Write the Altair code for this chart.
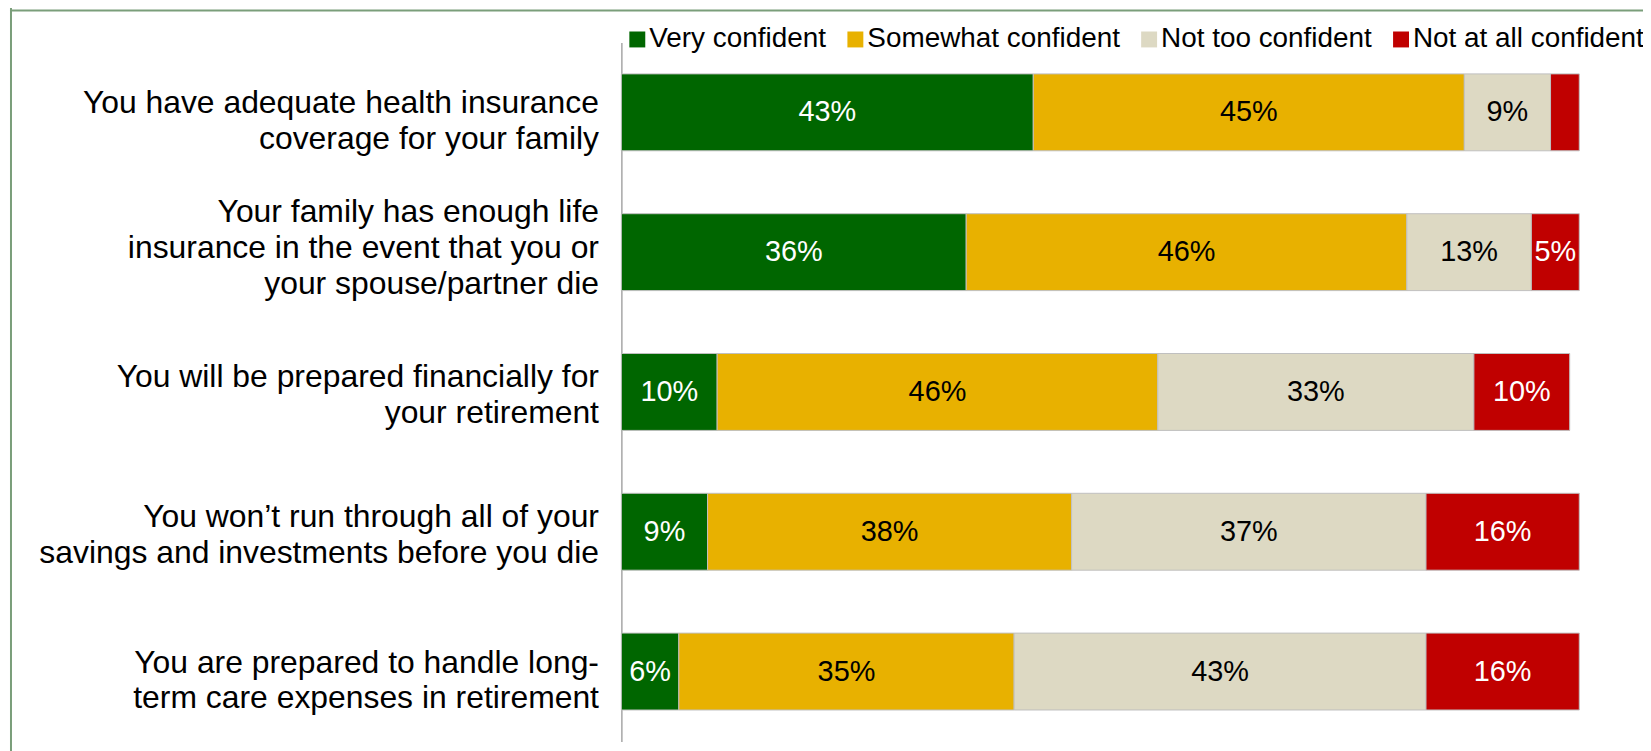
import altair as alt
import pandas as pd

categories = [
    "You have adequate health insurance|coverage for your family",
    "Your family has enough life|insurance in the event that you or|your spouse/partner die",
    "You will be prepared financially for|your retirement",
    "You won\u2019t run through all of your|savings and investments before you die",
    "You are prepared to handle long-|term care expenses in retirement",
]
levels = ["Very confident", "Somewhat confident", "Not too confident", "Not at all confident"]
colors = ["#006600", "#E8B100", "#DDD9C3", "#C00000"]

very = [43, 36, 10, 9, 6]
somewhat = [45, 46, 46, 38, 35]
not_too = [9, 13, 33, 37, 43]
not_at_all = [3, 5, 10, 16, 16]

series = [very, somewhat, not_too, not_at_all]
rows = []
for li, (lvl, vals) in enumerate(zip(levels, series)):
    for cat, v in zip(categories, vals):
        rows.append({"item": cat, "level": lvl, "idx": li, "value": v})
df = pd.DataFrame(rows)

FONT = "Liberation Sans"

y_enc = alt.Y(
    "item:N",
    sort=categories,
    scale=alt.Scale(paddingInner=0.45, paddingOuter=0.225),
    axis=alt.Axis(
        title=None,
        ticks=False,
        grid=False,
        labelExpr="split(datum.value, '|')",
        labelFont=FONT,
        labelFontSize=32,
        labelLineHeight=36,
        labelColor="black",
        labelPadding=23,
        labelLimit=700,
        labelAlign="right",
        labelOffset={
            "condition": [
                {"test": "length(split(datum.value, '|')) == 3", "value": -40},
                {"test": "indexof(datum.value, 'health') >= 0 || indexof(datum.value, 'long-') >= 0", "value": -9},
            ],
            "value": -15,
        },
        domainColor="#A6A6A6",
        domainWidth=1.5,
    ),
)

bars = alt.Chart(df).mark_bar(stroke="#BFBFBF", strokeWidth=1).encode(
    y=y_enc,
    x=alt.X("value:Q", stack="zero", scale=alt.Scale(domain=[0, 100], nice=False), axis=None),
    color=alt.Color(
        "level:N",
        sort=levels,
        scale=alt.Scale(domain=levels, range=colors),
        legend=alt.Legend(
            title=None,
            orient="none",
            legendX=2,
            legendY=-17,
            direction="horizontal",
            columns=4,
            symbolType="square",
            symbolSize=256,
            symbolStrokeWidth=0,
            labelFont=FONT,
            labelFontSize=28,
            labelColor="black",
            labelOffset={"expr": "-2"},
            columnPadding=15,
            padding=0,
            labelLimit=400,
        ),
    ),
    order=alt.Order("idx:Q", sort="ascending"),
)

labels = (
    alt.Chart(df)
    .transform_stack(stack="value", groupby=["item"], sort=[alt.SortField("idx", order="ascending")], as_=["x0", "x1"])
    .transform_calculate(mid="(datum.x0 + datum.x1) / 2", label="datum.value + '%'")
    .transform_filter("datum.value >= 4")
    .mark_text(font=FONT, fontSize=29, baseline="middle", align="center")
    .encode(
        y=alt.Y("item:N", sort=categories),
        x=alt.X("mid:Q"),
        text=alt.Text("label:N"),
        color=alt.condition(
            "datum.level == 'Very confident' || datum.level == 'Not at all confident'",
            alt.value("white"),
            alt.value("black"),
        ),
    )
)

frame_df = pd.DataFrame({"a": [0]})
left_border = alt.Chart(frame_df).mark_rule(color="#7A9E7A", strokeWidth=2).encode(
    x=alt.value(-613), y=alt.value(-40), y2=alt.value(720)
)
top_border = alt.Chart(frame_df).mark_rule(color="#7A9E7A", strokeWidth=2).encode(
    x=alt.value(-614), x2=alt.value(1040), y=alt.value(-32)
)

chart = (
    alt.layer(left_border, top_border, bars, labels)
    .properties(
        width=962,
        height=702,
        autosize=alt.AutoSizeParams(type="none"),
        padding={"left": 616, "top": 33, "right": 64, "bottom": 10},
    )
    .configure_view(stroke="transparent")
)

chart.save("out.html", embed_options={"renderer": "svg", "actions": False})
